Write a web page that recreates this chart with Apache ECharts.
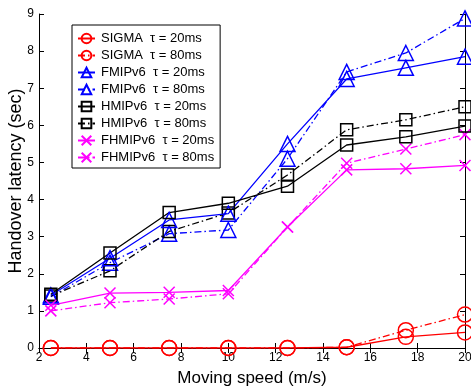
<!DOCTYPE html>
<html>
<head>
<meta charset="utf-8">
<script src="https://cdn.jsdelivr.net/npm/echarts@6/dist/echarts.min.js"></script>
<style>
  html, body { margin: 0; padding: 0; background: #fff; }
  #chart { width: 471px; height: 387px; }
</style>
</head>
<body>
<div id="chart"></div>
<script>
// moving speed (m/s)
const speeds = [2.5, 5, 7.5, 10, 12.5, 15, 17.5, 20];

// handover latency (sec)
const sigma20 = [0, 0, 0, 0, 0, 0.02, 0.3, 0.42];
const sigma80 = [0, 0, 0, 0, 0, 0.02, 0.48, 0.9];
const fmip20 = [1.42, 2.42, 3.45, 3.62, 5.5, 7.25, 7.55, 7.85];
const fmip80 = [1.38, 2.3, 3.08, 3.18, 5.1, 7.44, 7.95, 8.88];
const hmip20 = [1.45, 2.56, 3.65, 3.9, 4.36, 5.47, 5.69, 5.98];
const hmip80 = [1.4, 2.08, 3.14, 3.64, 4.66, 5.88, 6.15, 6.5];
const fhmip20 = [1.15, 1.48, 1.5, 1.55, 3.26, 4.8, 4.83, 4.92];
const fhmip80 = [1.0, 1.22, 1.32, 1.46, 3.26, 4.98, 5.36, 5.75];

const xTicks = [2, 4, 6, 8, 10, 12, 14, 16, 18, 20];
const yTicks = [0, 1, 2, 3, 4, 5, 6, 7, 8, 9];

const font = 'Liberation Sans, Arial, Helvetica, sans-serif';
const dashDot = [7, 3, 1.5, 3];
const crossPath = 'path://M0,0L10,10M10,0L0,10';

const pairs = vals => speeds.map((s, i) => [s, vals[i]]);

function mkSeries(name, vals, color, symbol, size, dashed) {
  return {
    name: name,
    type: 'line',
    data: pairs(vals),
    symbol: symbol,
    symbolSize: size,
    showAllSymbol: true,
    lineStyle: { color: color, width: 1.3, type: dashed ? dashDot : 'solid' },
    itemStyle: { color: 'rgba(0,0,0,0)', borderColor: color, borderWidth: 1.5 },
    emphasis: { disabled: true },
    z: dashed ? 2 : 3
  };
}

const chart = echarts.init(document.getElementById('chart'), null, { renderer: 'canvas' });

const axisCommon = {
  type: 'value',
  axisLine: { show: true, lineStyle: { color: '#000', width: 1 } },
  axisTick: { show: true, inside: true, length: 5, lineStyle: { color: '#000' } },
  splitLine: { show: false }
};

chart.setOption({
  animation: false,
  backgroundColor: '#fff',
  textStyle: { fontFamily: font },
  grid: { left: 39, right: 6, top: 14, bottom: 39, outerBoundsMode: 'none', containLabel: false },
  legend: {
    orient: 'vertical',
    left: 72,
    top: 25,
    padding: [7, 6, 4, 5],
    itemGap: 4,
    itemWidth: 17,
    itemHeight: 12,
    backgroundColor: '#fff',
    borderColor: '#000',
    borderWidth: 1,
    borderRadius: 0,
    textStyle: { fontFamily: font, fontSize: 13, lineHeight: 12, color: '#000', padding: [0, 0, 0, 1] },
    data: [
      'SIGMA  τ = 20ms', 'SIGMA  τ = 80ms',
      'FMIPv6  τ = 20ms', 'FMIPv6  τ = 80ms',
      'HMIPv6  τ = 20ms', 'HMIPv6  τ = 80ms',
      'FHMIPv6  τ = 20ms', 'FHMIPv6  τ = 80ms'
    ]
  },
  xAxis: [
    Object.assign({}, axisCommon, {
      min: 2, max: 20, interval: 2,
      position: 'bottom',
      name: 'Moving speed (m/s)',
      nameLocation: 'middle',
      nameGap: 22,
      nameTextStyle: { fontFamily: font, fontSize: 17, color: '#000' },
      axisLabel: {
        color: '#000', fontSize: 12, fontFamily: font, margin: 4,
        formatter: v => (xTicks.indexOf(v) >= 0 ? String(v) : '')
      }
    }),
    Object.assign({}, axisCommon, {
      min: 2, max: 20, interval: 2,
      position: 'top',
      axisLabel: { show: false }
    })
  ],
  yAxis: [
    Object.assign({}, axisCommon, {
      min: 0, max: 9, interval: 1,
      position: 'left',
      name: 'Handover latency (sec)',
      nameLocation: 'middle',
      nameGap: 14,
      nameMoveOverlap: false,
      nameRotate: 90,
      nameTextStyle: { fontFamily: font, fontSize: 18, color: '#000' },
      axisLabel: {
        color: '#000', fontSize: 12, fontFamily: font, margin: 5,
        formatter: v => (yTicks.indexOf(v) >= 0 ? String(v) : '')
      }
    }),
    Object.assign({}, axisCommon, {
      min: 0, max: 9, interval: 1,
      position: 'right',
      axisLabel: { show: false }
    })
  ],
  series: [
    mkSeries('SIGMA  τ = 20ms', sigma20, '#ff0000', 'circle', 15, false),
    mkSeries('SIGMA  τ = 80ms', sigma80, '#ff0000', 'circle', 15, true),
    mkSeries('FMIPv6  τ = 20ms', fmip20, '#0000ff', 'triangle', 15, false),
    mkSeries('FMIPv6  τ = 80ms', fmip80, '#0000ff', 'triangle', 15, true),
    mkSeries('HMIPv6  τ = 20ms', hmip20, '#000000', 'rect', 12, false),
    mkSeries('HMIPv6  τ = 80ms', hmip80, '#000000', 'rect', 12, true),
    mkSeries('FHMIPv6  τ = 20ms', fhmip20, '#ff00ff', crossPath, 11, false),
    mkSeries('FHMIPv6  τ = 80ms', fhmip80, '#ff00ff', crossPath, 11, true)
  ]
});
</script>
</body>
</html>
